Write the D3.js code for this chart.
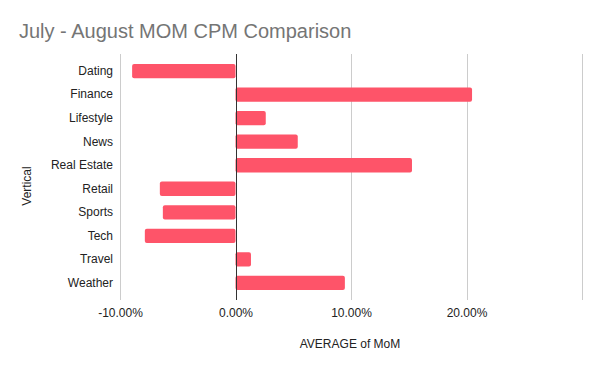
<!DOCTYPE html>
<html>
<head>
<meta charset="utf-8">
<script src="https://cdn.jsdelivr.net/npm/d3@7"></script>
<style>
  html, body { margin: 0; padding: 0; background: #fff; }
  svg { display: block; font-family: "Liberation Sans", Arial, sans-serif; }
</style>
</head>
<body>
<svg id="chart" width="600" height="371"></svg>
<script>
const categories = ["Dating", "Finance", "Lifestyle", "News", "Real Estate", "Retail", "Sports", "Tech", "Travel", "Weather"];
const values = [-0.0895, 0.2048, 0.0262, 0.0539, 0.1528, -0.0655, -0.0629, -0.0785, 0.0134, 0.0947];
const xTicks = [-0.1, 0, 0.1, 0.2, 0.3];
const xTickLabels = ["-10.00%", "0.00%", "10.00%", "20.00%", ""];
const title = "July - August MOM CPM Comparison";
const xAxisTitle = "AVERAGE of MoM";
const yAxisTitle = "Vertical";

const svg = d3.select("#chart");
const plot = { left: 120, right: 582, top: 54, bottom: 300 };

const x = d3.scaleLinear().domain([-0.1, 0.3]).range([plot.left, plot.right]);
const y = d3.scaleBand().domain(categories).range([plot.top, plot.bottom]).paddingInner(0.39).paddingOuter(0.42);

svg.append("rect").attr("width", 600).attr("height", 371).attr("fill", "#fff");

// title
svg.append("text").attr("x", 19).attr("y", 38)
  .attr("font-size", 20).attr("fill", "#757575").text(title);

// gridlines
svg.append("g").selectAll("line").data(xTicks).join("line")
  .attr("x1", d => Math.round(x(d)) + 0.5).attr("x2", d => Math.round(x(d)) + 0.5)
  .attr("y1", plot.top).attr("y2", plot.bottom)
  .attr("stroke", "#cccccc").attr("stroke-width", 1);

// bars
svg.append("g").selectAll("rect").data(categories).join("rect")
  .attr("x", (d, i) => Math.min(x(0), x(values[i])))
  .attr("y", d => y(d))
  .attr("width", (d, i) => Math.abs(x(values[i]) - x(0)))
  .attr("height", y.bandwidth())
  .attr("rx", 2).attr("ry", 2)
  .attr("fill", "#fe5469");

// zero line
svg.append("line")
  .attr("x1", Math.round(x(0)) + 0.5).attr("x2", Math.round(x(0)) + 0.5)
  .attr("y1", plot.top).attr("y2", plot.bottom)
  .attr("stroke", "#333333").attr("stroke-width", 1);

// x tick labels
const xAxis = d3.axisBottom(x).tickValues(xTicks).tickSize(0).tickPadding(0)
  .tickFormat((d, i) => xTickLabels[i]);
const gx = svg.append("g").attr("transform", `translate(0, ${plot.bottom + 17})`).call(xAxis);
gx.select(".domain").remove();
gx.selectAll("text").attr("font-size", 12).attr("fill", "#222").attr("font-family", "Liberation Sans, Arial, sans-serif").attr("dy", "0");

// y labels
const yAxis = d3.axisLeft(y).tickSize(0).tickPadding(0);
const gy = svg.append("g").attr("transform", `translate(${plot.left - 7}, 0)`).call(yAxis);
gy.select(".domain").remove();
gy.selectAll("text").attr("font-size", 12).attr("fill", "#222").attr("font-family", "Liberation Sans, Arial, sans-serif");

// axis titles
svg.append("text").attr("x", 350).attr("y", 348).attr("text-anchor", "middle")
  .attr("font-size", 12).attr("fill", "#222").text(xAxisTitle);
svg.append("text").attr("transform", "translate(31,186) rotate(-90)").attr("text-anchor", "middle")
  .attr("font-size", 12).attr("fill", "#222").text(yAxisTitle);
</script>
</body>
</html>
